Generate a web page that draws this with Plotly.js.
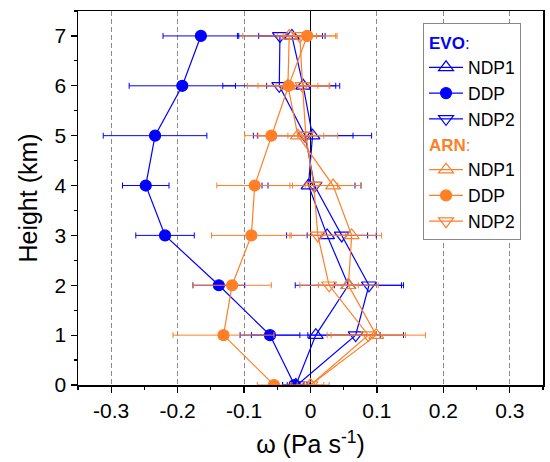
<!DOCTYPE html>
<html>
<head>
<meta charset="utf-8">
<script src="https://cdn.plot.ly/plotly-3.0.1.min.js"></script>
<style>html,body{margin:0;padding:0;background:#fff;}#chart{width:550px;height:462px;}</style>
</head>
<body>
<div id="chart"></div>
<script>
// Heights (km)
var heights = [0, 1, 2, 3, 4, 5, 6, 7];

// EVO series (omega, Pa s-1) and error bars
var evoNdp1    = [-0.022, 0.008, 0.057, 0.025, -0.003, 0.003, -0.011, -0.028];
var evoNdp1Err = [0.020, 0.097, 0.080, 0.061, 0.070, 0.089, 0.055, 0.050];
var evoDdp     = [-0.024, -0.061, -0.138, -0.219, -0.248, -0.234, -0.193, -0.165];
var evoDdpErr  = [0.018, 0.045, 0.039, 0.044, 0.035, 0.078, 0.080, 0.057];
var evoNdp2    = [-0.020, 0.068, 0.088, 0.047, 0.006, -0.008, -0.047, -0.046];
var evoNdp2Err = [0.015, 0.072, 0.052, 0.052, 0.070, 0.072, 0.085, 0.064];

// ARN series
var arnNdp1    = [0.000, 0.099, 0.057, 0.062, 0.034, -0.019, -0.034, -0.032];
var arnNdp1Err = [0.020, 0.074, 0.045, 0.045, 0.042, 0.060, 0.045, 0.070];
var arnDdp     = [-0.055, -0.131, -0.118, -0.089, -0.084, -0.059, -0.033, -0.005];
var arnDdpErr  = [0.025, 0.076, 0.059, 0.060, 0.057, 0.040, 0.062, 0.045];
var arnNdp2    = [0.000, 0.087, 0.028, 0.011, 0.005, -0.007, -0.012, -0.016];
var arnNdp2Err = [0.028, 0.056, 0.044, 0.042, 0.036, 0.027, 0.040, 0.025];

// Tick labels
var xTickVals = [-0.3, -0.2, -0.1, 0, 0.1, 0.2, 0.3];
var xTickText = ['-0.3', '-0.2', '-0.1', '0', '0.1', '0.2', '0.3'];
var yTickVals = [0, 1, 2, 3, 4, 5, 6, 7];
var yTickText = ['0', '1', '2', '3', '4', '5', '6', '7'];

var BLUE = '#0000FF';
var ORANGE = '#FF7F27';
var FONT = 'Liberation Sans, Arial, sans-serif';

function mk(x, err, name, color, symbol, group, groupTitle) {
  var filled = symbol === 'circle';
  var tr = {
    type: 'scatter', mode: 'lines+markers',
    x: x, y: heights, name: name,
    legendgroup: group,
    line: {color: color, width: 1.2},
    marker: {
      symbol: filled ? 'circle' : symbol + '-open',
      size: filled ? 11 : 13,
      color: color,
      line: {color: color, width: 1.2}
    },
    error_x: {type: 'data', array: err, visible: true, color: color, thickness: 1, width: 3}
  };
  if (groupTitle) tr.legendgrouptitle = {text: groupTitle, font: {family: FONT, size: 17, color: color}};
  return tr;
}

var data = [
  mk(evoNdp1, evoNdp1Err, 'NDP1', BLUE, 'triangle-up', 'evo', '<b>EVO</b>:'),
  mk(evoDdp, evoDdpErr, 'DDP', BLUE, 'circle', 'evo', '<b>EVO</b>:'),
  mk(evoNdp2, evoNdp2Err, 'NDP2', BLUE, 'triangle-down', 'evo', '<b>EVO</b>:'),
  mk(arnNdp1, arnNdp1Err, 'NDP1', ORANGE, 'triangle-up', 'arn', '<b>ARN</b>:'),
  mk(arnDdp, arnDdpErr, 'DDP', ORANGE, 'circle', 'arn', '<b>ARN</b>:'),
  mk(arnNdp2, arnNdp2Err, 'NDP2', ORANGE, 'triangle-down', 'arn', '<b>ARN</b>:')
];

var layout = {
  width: 550, height: 462,
  margin: {l: 78, r: 7, t: 11, b: 77},
  paper_bgcolor: '#fff', plot_bgcolor: '#fff',
  font: {family: FONT, size: 21, color: '#000'},
  showlegend: true,
  legend: {
    x: 0.742, y: 0.967, xanchor: 'left', yanchor: 'top',
    bgcolor: '#fff', bordercolor: '#888', borderwidth: 1,
    font: {family: FONT, size: 17.5, color: '#000'},
    tracegroupgap: 0, traceorder: 'grouped', itemwidth: 34
  },
  xaxis: {
    range: [-0.35, 0.35],
    tickvals: xTickVals, ticktext: xTickText,
    ticks: 'outside', ticklen: 6, tickwidth: 1.2, tickcolor: '#000',
    minor: {dtick: 0.05, tick0: 0, ticks: 'outside', ticklen: 3, tickwidth: 1.2, tickcolor: '#000', showgrid: false},
    showline: true, linecolor: '#000', linewidth: 1.5, mirror: true,
    showgrid: true, gridcolor: '#8c8c8c', gridwidth: 1, griddash: '5px,3px',
    zeroline: true, zerolinecolor: '#000', zerolinewidth: 1.5,
    tickfont: {family: FONT, size: 21},
    title: {text: 'ω (Pa s<sup>-1</sup>)', font: {family: FONT, size: 25}, standoff: 15}
  },
  yaxis: {
    range: [0, 7.5],
    tickvals: yTickVals, ticktext: yTickText,
    ticks: 'outside', ticklen: 6, tickwidth: 1.2, tickcolor: '#000',
    minor: {dtick: 0.5, tick0: 0, ticks: 'outside', ticklen: 3, tickwidth: 1.2, tickcolor: '#000', showgrid: false},
    showline: true, linecolor: '#000', linewidth: 1.5, mirror: true,
    showgrid: false, zeroline: false,
    tickfont: {family: FONT, size: 21},
    title: {text: 'Height (km)', font: {family: FONT, size: 25}, standoff: 10}
  }
};

Plotly.newPlot('chart', data, layout, {displayModeBar: false, staticPlot: true});
</script>
</body>
</html>
